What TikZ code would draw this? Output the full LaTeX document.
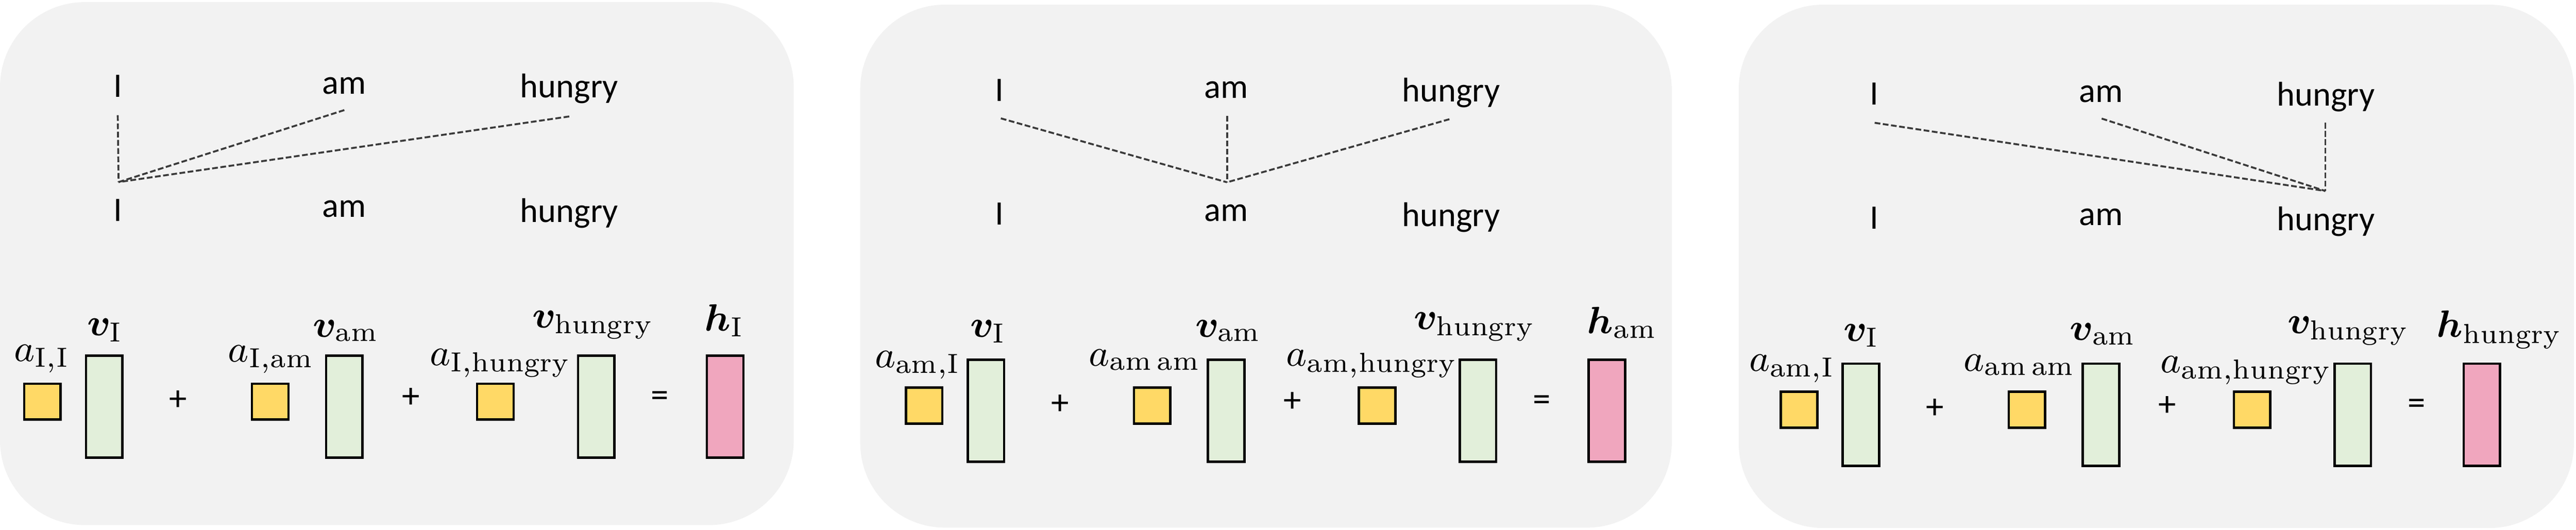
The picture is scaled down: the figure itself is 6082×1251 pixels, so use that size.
\documentclass[tikz,border=0pt]{standalone}
\usepackage{fontspec}
\usepackage{amsmath}
\usepackage{bm}
\newfontfamily\calibrifont{Carlito}
\definecolor{panelgray}{HTML}{F2F2F2}
\definecolor{boxyellow}{HTML}{FFD966}
\definecolor{boxgreen}{HTML}{E2EFDA}
\definecolor{boxpink}{HTML}{F0A6BE}
\definecolor{dashgray}{HTML}{3A3A3A}
\tikzset{
  panel/.style={fill=panelgray, draw=none, rounded corners=20pt},
  word/.style={font=\calibrifont\fontsize{8.1pt}{9pt}\selectfont, anchor=base, inner sep=0pt},
  opsym/.style={font=\calibrifont\fontsize{8.4pt}{9pt}\selectfont, inner sep=0pt},
  lab/.style={font=\fontsize{9.3pt}{10pt}\selectfont, anchor=base, inner sep=0pt},
  abox/.style={draw=black, line width=0.55pt, fill=boxyellow, minimum width=8.6pt, minimum height=8.5pt, inner sep=0pt},
  vbox/.style={draw=black, line width=0.55pt, fill=boxgreen, minimum width=8.6pt, minimum height=24.1pt, inner sep=0pt},
  hbox/.style={vbox, fill=boxpink},
  att/.style={draw=dashgray, line width=0.45pt, dash pattern=on 1.35pt off 0.6pt},
}
\begin{document}
\begin{tikzpicture}[x=0.1pt, y=-0.1pt]
\useasboundingbox (0,0) rectangle (6082,1251);
% panels
\path[panel] (0,5) rectangle (1874,1240);
\path[panel] (2031,11) rectangle (3947,1246);
\path[panel] (4105,11) rectangle (6077,1247);

% ---------- panel 1 ----------
\begin{scope}
  \node[word] (p1-tI) at (278,229) {I};
  \node[word] (p1-tam) at (813,222) {am};
  \node[word] (p1-thu) at (1344,231) {hungry};
  \node[word] (p1-bI) at (278,522) {I};
  \node[word] (p1-bam) at (813,513) {am};
  \node[word] (p1-bhu) at (1344,525) {hungry};
  \coordinate (p1-c) at (280,430);
  \coordinate (p1-sI) at (278,272);
  \coordinate (p1-sam) at (813,260);
  \coordinate (p1-shu) at (1344,275);
  \draw[att] (p1-sI) -- (p1-c);
  \draw[att] (p1-sam) -- (p1-c);
  \draw[att] (p1-shu) -- (p1-c);
  \node[abox] (p1-a1) at (100,948.5) {};
  \node[vbox] (p1-v1) at (246,960.5) {};
  \node[opsym] (p1-plus1) at (421,946) {+};
  \node[abox] (p1-a2) at (638,948.5) {};
  \node[vbox] (p1-v2) at (813,960.5) {};
  \node[opsym] (p1-plus2) at (970,940) {+};
  \node[abox] (p1-a3) at (1169.5,948.5) {};
  \node[vbox] (p1-v3) at (1407.5,960.5) {};
  \node[opsym] (p1-eq) at (1558,942) {=};
  \node[hbox] (p1-h) at (1712,960.5) {};
  \node[lab] (p1-la1) at (99,853) {$a_{\mathrm{I{,}I}}$};
  \node[lab] (p1-lv1) at (248,793) {$\bm{v}_{\mathrm{I}}$};
  \node[lab] (p1-la2) at (640,855) {$a_{\mathrm{I{,}am}}$};
  \node[lab] (p1-lv2) at (817,796) {$\bm{v}_{\mathrm{am}}$};
  \node[lab] (p1-la3) at (1181,863) {$a_{\mathrm{I{,}hungry}}$};
  \node[lab] (p1-lv3) at (1400,774) {$\bm{v}_{\mathrm{hungry}}$};
  \node[lab] (p1-lh) at (1710,782) {$\bm{h}_{\mathrm{I}}$};
\end{scope}

% ---------- panel 2 ----------
\begin{scope}[shift={(2082,9.5)}]
  \node[word] (p2-tI) at (278,229) {I};
  \node[word] (p2-tam) at (813,222) {am};
  \node[word] (p2-thu) at (1344,231) {hungry};
  \node[word] (p2-bI) at (278,522) {I};
  \node[word] (p2-bam) at (813,513) {am};
  \node[word] (p2-bhu) at (1344,525) {hungry};
  \coordinate (p2-c) at (815,421);
  \coordinate (p2-sI) at (281,270);
  \coordinate (p2-sam) at (815,264);
  \coordinate (p2-shu) at (1340,272);
  \draw[att] (p2-sI) -- (p2-c);
  \draw[att] (p2-sam) -- (p2-c);
  \draw[att] (p2-shu) -- (p2-c);
  \node[abox] (p2-a1) at (100,948.5) {};
  \node[vbox] (p2-v1) at (246,960.5) {};
  \node[opsym] (p2-plus1) at (421,946) {+};
  \node[abox] (p2-a2) at (638,948.5) {};
  \node[vbox] (p2-v2) at (813,960.5) {};
  \node[opsym] (p2-plus2) at (970,940) {+};
  \node[abox] (p2-a3) at (1169.5,948.5) {};
  \node[vbox] (p2-v3) at (1407.5,960.5) {};
  \node[opsym] (p2-eq) at (1558,942) {=};
  \node[hbox] (p2-h) at (1712,960.5) {};
  \node[lab] (p2-la1) at (85,858.5) {$a_{\mathrm{am{,}I}}$};
  \node[lab] (p2-lv1) at (251,786.5) {$\bm{v}_{\mathrm{I}}$};
  \node[lab] (p2-la2) at (621,855) {$a_{\mathrm{am\,am}}$};
  \node[lab] (p2-lv2) at (818,786.5) {$\bm{v}_{\mathrm{am}}$};
  \node[lab] (p2-la3) at (1157,855) {$a_{\mathrm{am{,}hungry}}$};
  \node[lab] (p2-lv3) at (1399,768.5) {$\bm{v}_{\mathrm{hungry}}$};
  \node[lab] (p2-lh) at (1748,778.5) {$\bm{h}_{\mathrm{am}}$};
\end{scope}

% ---------- panel 3 ----------
\begin{scope}[shift={(4147.5,19)}]
  \node[word] (p3-tI) at (278,229) {I};
  \node[word] (p3-tam) at (813,222) {am};
  \node[word] (p3-thu) at (1344,231) {hungry};
  \node[word] (p3-bI) at (278,522) {I};
  \node[word] (p3-bam) at (813,513) {am};
  \node[word] (p3-bhu) at (1344,525) {hungry};
  \coordinate (p3-c) at (1342.5,432);
  \coordinate (p3-sI) at (278.5,271);
  \coordinate (p3-sam) at (814.5,261);
  \coordinate (p3-shu) at (1342.5,271);
  \draw[att] (p3-sI) -- (p3-c);
  \draw[att] (p3-sam) -- (p3-c);
  \draw[att] (p3-shu) -- (p3-c);
  \node[abox] (p3-a1) at (100,948.5) {};
  \node[vbox] (p3-v1) at (246,960.5) {};
  \node[opsym] (p3-plus1) at (421,946) {+};
  \node[abox] (p3-a2) at (638,948.5) {};
  \node[vbox] (p3-v2) at (813,960.5) {};
  \node[opsym] (p3-plus2) at (970,940) {+};
  \node[abox] (p3-a3) at (1169.5,948.5) {};
  \node[vbox] (p3-v3) at (1407.5,960.5) {};
  \node[opsym] (p3-eq) at (1558,942) {=};
  \node[hbox] (p3-h) at (1712,960.5) {};
  \node[lab] (p3-la1) at (83.5,857.5) {$a_{\mathrm{am{,}I}}$};
  \node[lab] (p3-lv1) at (247.5,786.6) {$\bm{v}_{\mathrm{I}}$};
  \node[lab] (p3-la2) at (620.5,857.5) {$a_{\mathrm{am\,am}}$};
  \node[lab] (p3-lv2) at (817.5,785) {$\bm{v}_{\mathrm{am}}$};
  \node[lab] (p3-la3) at (1155.5,861.5) {$a_{\mathrm{am{,}hungry}}$};
  \node[lab] (p3-lv3) at (1396.5,769) {$\bm{v}_{\mathrm{hungry}}$};
  \node[lab] (p3-lh) at (1753.5,777) {$\bm{h}_{\mathrm{hungry}}$};
\end{scope}
\end{tikzpicture}
\end{document}
